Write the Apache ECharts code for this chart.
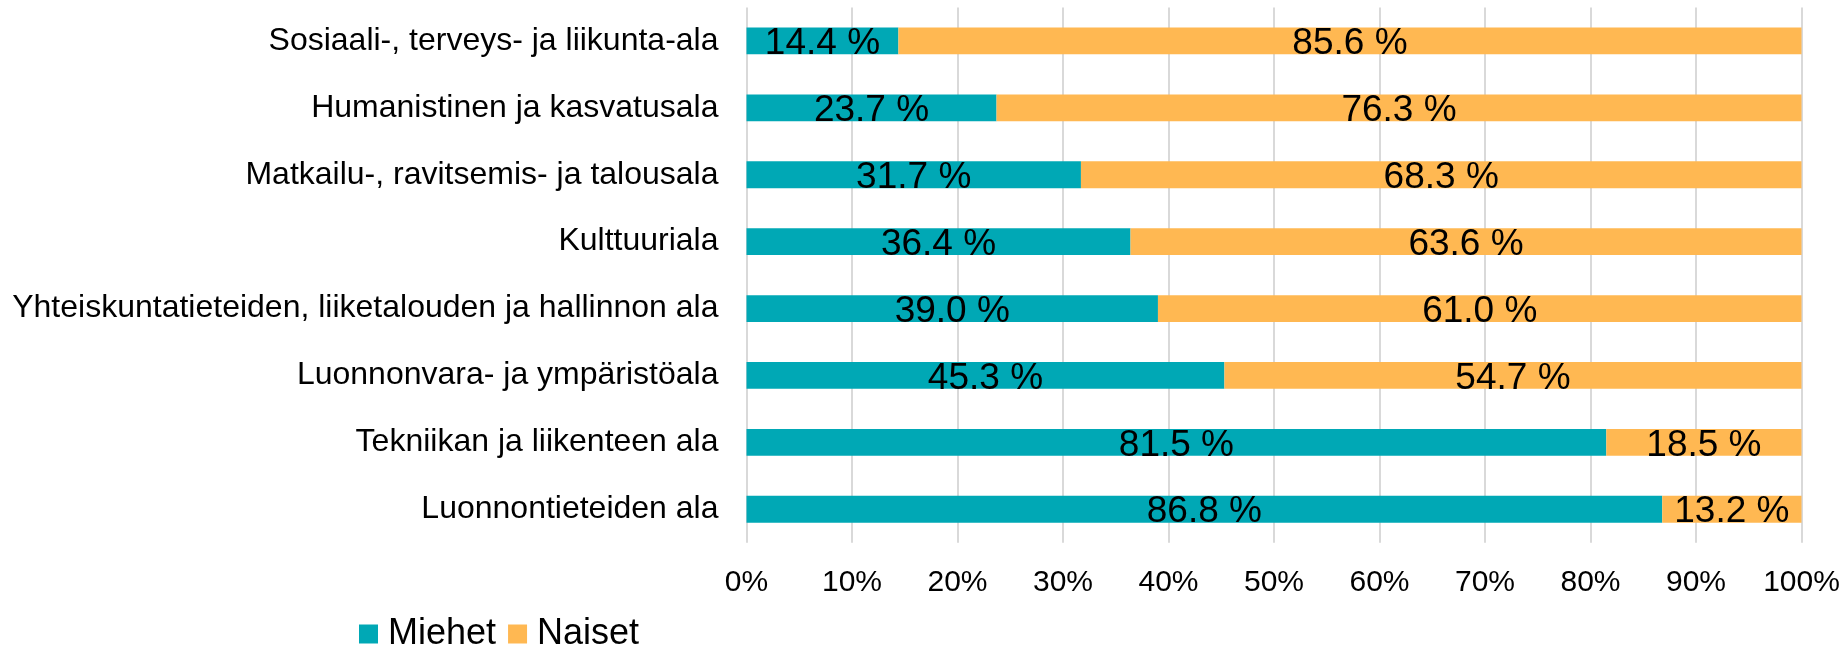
<!DOCTYPE html>
<html>
<head>
<meta charset="utf-8">
<script src="https://cdn.jsdelivr.net/npm/echarts@6/dist/echarts.min.js"></script>
<style>
	html, body { margin: 0; padding: 0; background: #fff; }
	#chart { width: 1847px; height: 646px; }
</style>
</head>
<body>
<div id="chart"></div>
<script>
	// alat ylhäältä alas
	var categories = [
		'Sosiaali-, terveys- ja liikunta-ala',
		'Humanistinen ja kasvatusala',
		'Matkailu-, ravitsemis- ja talousala',
		'Kulttuuriala',
		'Yhteiskuntatieteiden, liiketalouden ja hallinnon ala',
		'Luonnonvara- ja ympäristöala',
		'Tekniikan ja liikenteen ala',
		'Luonnontieteiden ala'
	];
	var miehet = [14.4, 23.7, 31.7, 36.4, 39.0, 45.3, 81.5, 86.8];
	var naiset = [85.6, 76.3, 68.3, 63.6, 61.0, 54.7, 18.5, 13.2];
	var seriesNames = ['Miehet', 'Naiset'];

	var font = '"Liberation Sans", Arial, sans-serif';

	var chart = echarts.init(document.getElementById('chart'));

	var labelStyle = {
		show: true,
		position: 'inside',
		offset: [0, 3],
		color: '#000',
		fontSize: 37,
		fontFamily: font,
		formatter: function(p) {
			return p.value.toFixed(1) + ' %';
		}
	};

	chart.setOption({
		animation: false,
		textStyle: { fontFamily: font },
		grid: {
			left: 746.5,
			right: 45.5,
			top: 7.5,
			bottom: 103.3,
			containLabel: false
		},
		legend: {
			data: seriesNames,
			left: 359,
			top: 616,
			padding: 0,
			icon: 'rect',
			itemWidth: 19,
			itemHeight: 19,
			itemGap: 12,
			textStyle: {
				fontSize: 36,
				color: '#000',
				fontFamily: font,
				padding: [0, 0, 0, 5]
			}
		},
		xAxis: {
			type: 'value',
			min: 0,
			max: 100,
			interval: 10,
			axisLine: { show: false },
			axisTick: { show: false },
			axisLabel: {
				formatter: '{value}%',
				fontSize: 30,
				color: '#000',
				fontFamily: font,
				margin: 25
			},
			splitLine: {
				show: true,
				lineStyle: { color: '#d9d9d9', width: 2 }
			}
		},
		yAxis: {
			type: 'category',
			data: categories,
			inverse: true,
			axisLine: { show: false },
			axisTick: { show: false },
			axisLabel: {
				fontSize: 32,
				color: '#000',
				fontFamily: font,
				margin: 28
			}
		},
		series: [{
			name: 'Miehet',
			type: 'bar',
			stack: 'total',
			barCategoryGap: '60%',
			itemStyle: { color: '#00a8b5' },
			label: labelStyle,
			data: miehet
		}, {
			name: 'Naiset',
			type: 'bar',
			stack: 'total',
			barCategoryGap: '60%',
			itemStyle: { color: '#ffb852' },
			label: labelStyle,
			data: naiset
		}]
	});
</script>
</body>
</html>
